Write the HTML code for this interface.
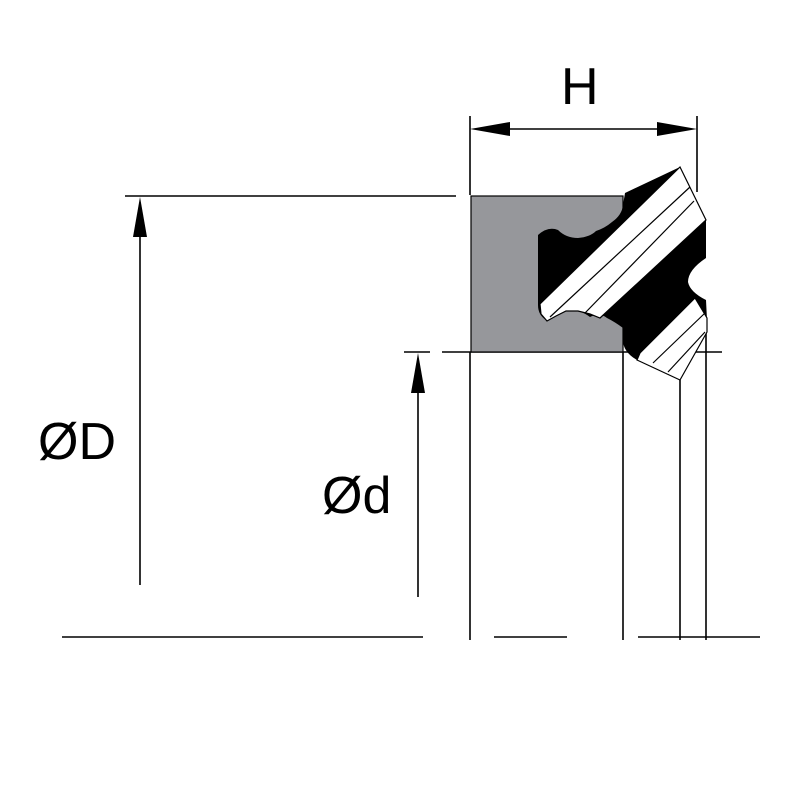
<!DOCTYPE html>
<html><head><style>html,body{margin:0;padding:0;background:#fff;width:800px;height:800px;overflow:hidden}</style></head>
<body>
<svg width="800" height="800" viewBox="0 0 800 800" xmlns="http://www.w3.org/2000/svg">
<g stroke="#000" stroke-width="1.6" fill="none">
<line x1="470" y1="116" x2="470" y2="195"/>
<line x1="470" y1="352" x2="470" y2="640"/>
<line x1="697" y1="116" x2="697" y2="192"/>
<line x1="125" y1="196" x2="456" y2="196"/>
<line x1="442" y1="352" x2="722" y2="352"/>
<line x1="404" y1="352" x2="430" y2="352"/>
<line x1="623" y1="352" x2="623" y2="640"/>
<line x1="680" y1="380" x2="680" y2="640"/>
<line x1="706" y1="320" x2="706" y2="640"/>
<line x1="62" y1="637" x2="423" y2="637"/>
<line x1="494" y1="637" x2="567" y2="637"/>
<line x1="638" y1="637" x2="760" y2="637"/>
<line x1="505" y1="129" x2="660" y2="129"/>
<line x1="140" y1="230" x2="140" y2="585"/>
<line x1="418" y1="385" x2="418" y2="597"/>
</g>
<g fill="#000">
<polygon points="470,129 510,122 510,136"/>
<polygon points="697,129 657,122 657,136"/>
<polygon points="140,197 133,237 147,237"/>
<polygon points="418,353 411,393 425,393"/>
</g>
<rect x="471" y="196" width="152" height="156" fill="#96979b" stroke="#000" stroke-width="1.2"/>
<path fill="#000" d="M625,193 L680,167 L706,220 L706,258 Q688,270 688,282 Q690,292 706,300 L707,320 L680,380 L637,360 Q623,352 623,340 L623,328 Q615,322 607,318 Q600,312 590,317 Q578,308 562,310 Q552,316 546,320 Q538,315 538,305 L538,235 Q548,226 558,230 Q566,238 578,238 Q590,237 596,231 Q605,228 612,222 Q622,215 623,205 Z"/>
<g stroke="#000" stroke-width="1.2">
<polygon fill="#fff" points="540,304 680,167 706,220 600,318 590,314 578,311 566,311 556,316 547,321 541,314"/>
<polygon fill="#fff" points="640,353 695,298 707,318 707,332 680,380 637,360"/>
<line x1="550" y1="317" x2="690" y2="187"/>
<line x1="585" y1="313" x2="694" y2="201"/>
<line x1="653" y1="363" x2="705" y2="313"/>
<line x1="668" y1="372" x2="705" y2="332"/>
</g>
<g font-family="Liberation Sans, sans-serif" font-size="52" fill="#000">
<text x="561" y="104">H</text>
<text x="38" y="459">ØD</text>
<text x="322" y="513">Ød</text>
</g>
</svg>
</body></html>
